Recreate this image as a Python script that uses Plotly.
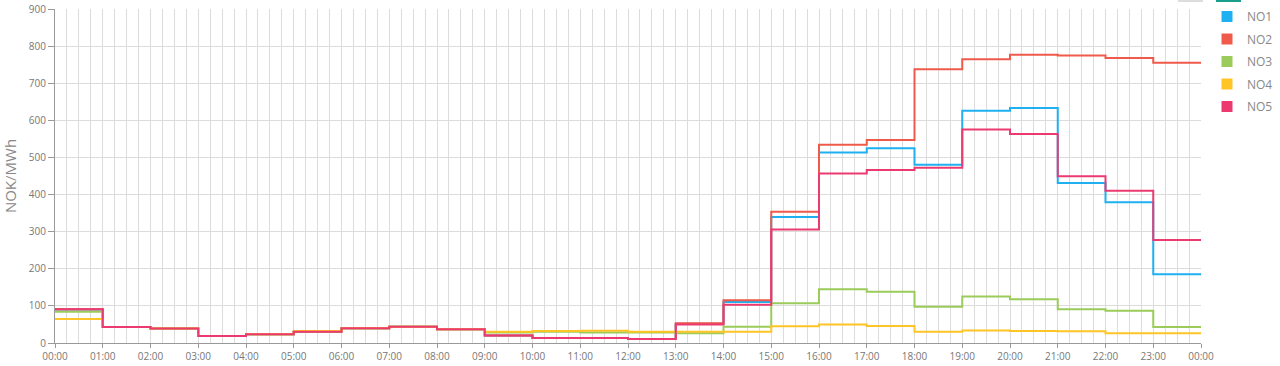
import plotly.graph_objects as go

hours = list(range(25))
tick_labels = [f"{h % 24:02d}:00" for h in range(25)]

no1 = [90, 43, 39, 19, 23.5, 30.5, 39.5, 44, 37, 20, 13.5, 13.5, 11, 52, 110.5, 339.5, 513, 525, 480, 626, 633, 431, 379, 185]
no2 = [91, 43, 39, 19, 23.5, 30.5, 39.5, 44, 37, 20, 13.5, 13.5, 11, 53, 115, 354, 534, 547, 737.5, 764.5, 777, 775, 768, 755]
no3 = [84, 43, 39, 19, 23.5, 30.5, 39.5, 44, 37, 28, 30, 28, 28, 26, 44, 107, 145, 138, 98, 125, 118, 91, 87, 43]
no4 = [65, 43, 39, 19, 23.5, 32, 39.5, 44, 37, 30, 32, 33, 30.5, 30, 30.5, 45, 50, 46, 30.5, 34, 32, 31.5, 26, 26]
no5 = [91, 43, 39, 19, 23.5, 30.5, 39.5, 44, 37, 20, 13.5, 13.5, 11, 50, 103, 306, 457, 466, 472, 575, 563, 449, 410, 277.5]

names = ["NO1", "NO2", "NO3", "NO4", "NO5"]
series = [no1, no2, no3, no4, no5]
colors = ["#1EB0F0", "#F05A4A", "#9BCB5A", "#FFC425", "#EC3A70"]

fig = go.Figure()
for name, vals, col in zip(names, series, colors):
    fig.add_trace(go.Scatter(
        x=hours, y=vals + [vals[-1]], mode="lines", line_shape="hv",
        line=dict(color=col, width=2), name=name, showlegend=False,
        hoverinfo="skip"))
for name, col in zip(names, colors):
    fig.add_trace(go.Scatter(
        x=[None], y=[None], mode="markers", name=name, legendgroup=name,
        marker=dict(symbol="square", size=11, color=col)))

grid = "#DCDCDC"
fig.update_layout(
    width=1280, height=366,
    margin=dict(l=55, r=79, t=9, b=23, autoexpand=False),
    paper_bgcolor="white", plot_bgcolor="white",
    font=dict(family="Open Sans, sans-serif", color="#777777", size=10),
    legend=dict(xref="container", yref="container",
                x=1207 / 1280, xanchor="left", y=1 - 2 / 366, yanchor="top",
                font=dict(size=12, color="#888888"), itemwidth=30,
                bgcolor="rgba(0,0,0,0)", tracegroupgap=3.5),
    xaxis=dict(range=[0, 24], tickvals=hours, ticktext=tick_labels,
               showgrid=True, gridcolor=grid, gridwidth=1,
               minor=dict(dtick=0.25, tick0=0, showgrid=True, gridcolor=grid, gridwidth=1),
               showline=True, linecolor="#999999", linewidth=1,
               ticks="outside", ticklen=4, tickcolor="#999999", automargin=False,
               tickfont=dict(size=10, color="#777777"), zeroline=False, fixedrange=True),
    yaxis=dict(range=[0, 900], dtick=100, tick0=0,
               showgrid=True, gridcolor=grid, gridwidth=1,
               showline=True, linecolor="#999999", linewidth=1,
               ticks="outside", ticklen=6, tickcolor="#999999", automargin=False,
               tickfont=dict(size=10, color="#777777"), zeroline=False,
               title=dict(text="NOK/MWh", font=dict(size=15, color="#888888"), standoff=8),
               fixedrange=True),
    shapes=[
        dict(type="line", xref="paper", yref="paper", x0=(1178-55)/1146, x1=(1203-55)/1146,
             y0=1.024, y1=1.024, line=dict(color="#DDDDDD", width=2)),
        dict(type="line", xref="paper", yref="paper", x0=(1216-55)/1146, x1=(1241-55)/1146,
             y0=1.024, y1=1.024, line=dict(color="#1A9E8C", width=2)),
    ],
)

fig.write_html("out.html")
